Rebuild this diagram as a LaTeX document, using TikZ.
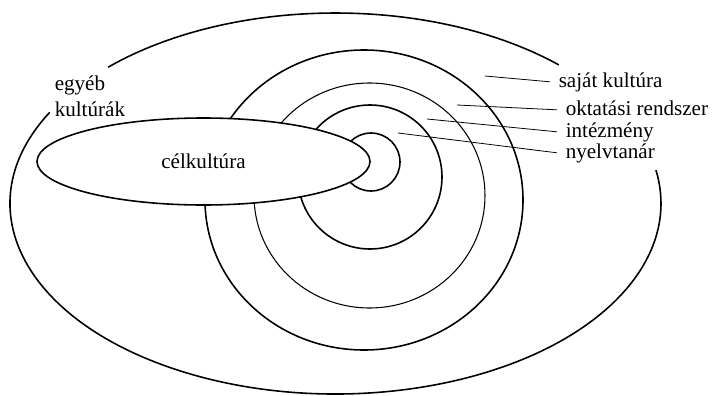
\documentclass[tikz,border=0pt]{standalone}
\usepackage{fontspec}
\setmainfont{Liberation Serif}
\usetikzlibrary{shapes.geometric}

\begin{document}
\begin{tikzpicture}[line width=0.9pt,
  thinring/.style={line width=0.6pt},
  leader/.style={line width=0.45pt},
  txt/.style={font=\fontsize{12}{14.7}\selectfont,inner sep=0pt},
  lbl/.style={txt,inner xsep=0.16cm,text height=8.5pt,text depth=2.6pt,anchor=base west}]
\useasboundingbox (0,0) rectangle (14.28,7.90);
% ---------- outer ellipse, open in two places ----------
\draw (6.71,3.83) ++(46.7:6.51 and 3.81)
  arc[start angle=46.7,end angle=134.3,x radius=6.51,y radius=3.81];
\draw (6.71,3.83) ++(151.4:6.51 and 3.81)
  arc[start angle=151.4,end angle=370.1,x radius=6.51,y radius=3.81];
\node[txt,align=left,anchor=west] (egyeb) at (1.08,5.97) {egyéb\\kultúrák};
% ---------- rings ----------
\draw (7.28,3.90) ellipse (3.18 and 3.00);
\draw[thinring] (7.39,3.99) ellipse (2.31 and 2.25);
\draw (7.40,4.36) circle (1.44);
\draw (7.42,4.66) circle (0.58);
% ---------- target culture ----------
\node[txt,draw,fill=white,ellipse,minimum width=6.66cm,minimum height=1.74cm] (cel)
  at (4.07,4.67) {célkultúra};
% ---------- labels on the right ----------
\coordinate (sajIn) at (9.70,6.38);
\coordinate (oktIn) at (9.14,5.80);
\coordinate (intIn) at (8.54,5.52);
\coordinate (nyeIn) at (7.96,5.24);
\node[lbl] (saj) at (11.00,6.16) {saját kultúra};
\node[lbl] (okt) at (11.14,5.60) {oktatási rendszer};
\node[lbl] (int) at (11.14,5.16) {intézmény};
\node[lbl] (nye) at (11.14,4.74) {nyelvtanár};
\draw[leader] (sajIn) -- (saj.west);
\draw[leader] (oktIn) -- (okt.west);
\draw[leader] (intIn) -- (int.west);
\draw[leader] (nyeIn) -- (nye.west);
\end{tikzpicture}
\end{document}
